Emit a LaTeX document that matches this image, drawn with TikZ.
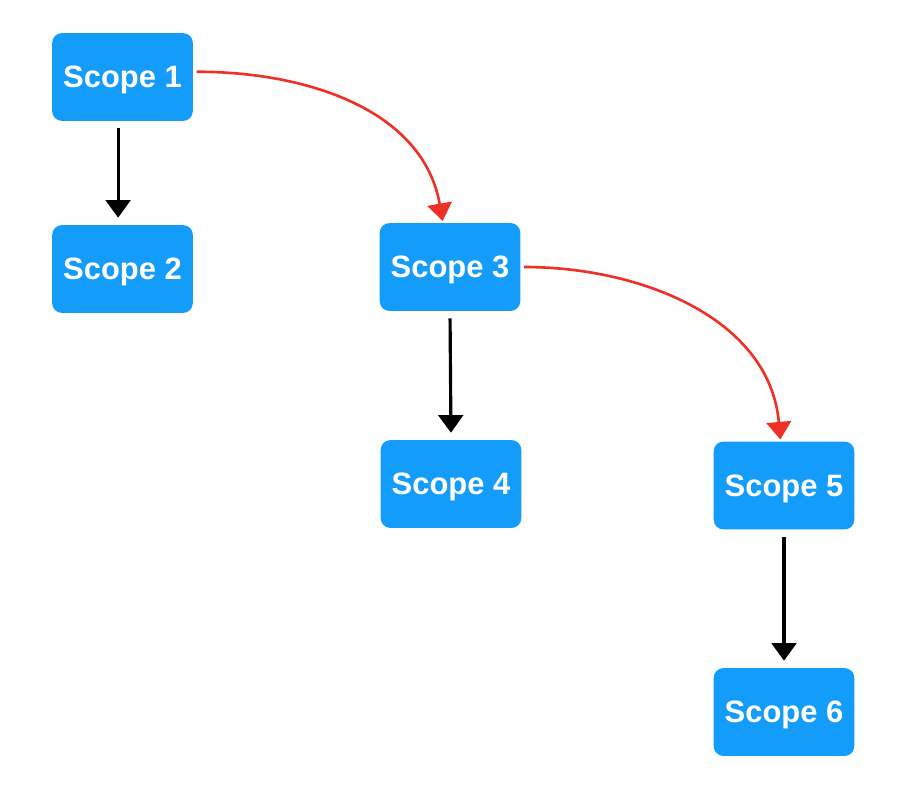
\documentclass[tikz,border=0pt]{standalone}
\usepackage{fontspec}
\setmainfont{Liberation Sans}
\usetikzlibrary{arrows.meta}
\definecolor{ScopeBlue}{HTML}{149CFB}
\definecolor{LinkRed}{HTML}{EE3126}

\tikzset{
  scopebox/.style={fill=ScopeBlue,text=white,rounded corners=5.5pt,
    minimum width=80pt,minimum height=50pt,inner sep=0pt,text depth=0pt,
    font=\fontsize{17.6}{19}\selectfont\bfseries},
  child/.style={line width=1.8pt,black,-{Triangle[width=14pt,length=10pt]},
    shorten <=4pt,shorten >=4pt},
  parent/.style={line width=1.5pt,LinkRed,-{Triangle[width=14pt,length=10pt]},
    shorten <=2pt,shorten >=1pt},
}

\begin{document}
\begin{tikzpicture}[x=0.02cm,y=-0.02cm]
  \useasboundingbox (0,0) rectangle (911,805);
  \node[scopebox] (s1) at (122.5,77) {Scope 1};
  \node[scopebox] (s2) at (122.5,269) {Scope 2};
  \node[scopebox] (s3) at (450,267) {Scope 3};
  \node[scopebox] (s4) at (451,484) {Scope 4};
  \node[scopebox] (s5) at (784,485.5) {Scope 5};
  \node[scopebox] (s6) at (784,712) {Scope 6};
  % children
  \draw[child] ([xshift=-2.5pt]s1.south) -- ([xshift=-2.5pt]s2.north);
  \draw[child] (s3.south) -- (s4.north);
  \draw[child] (s5.south) -- (s6.north);
  % parent links
  \draw[parent] ([yshift=3pt]s1.east) to[out=0,in=100] ([xshift=-4pt]s3.north);
  \draw[parent] (s3.east) to[out=0,in=95] ([xshift=-2pt]s5.north);
\end{tikzpicture}
\end{document}
